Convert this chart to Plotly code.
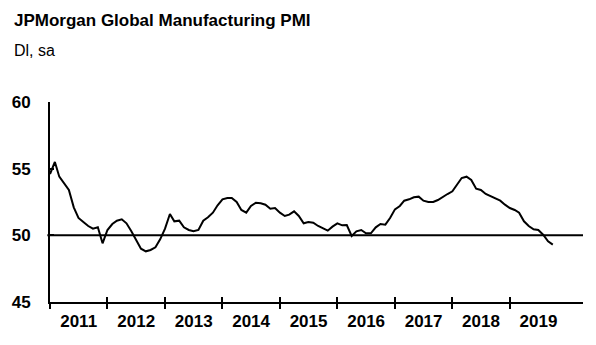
import pandas as pd
import plotly.graph_objects as go

# ---- data ----
start_month = "2011-01-01"
pmi_values = [
    54.6, 55.5, 54.4, 53.9, 53.4, 52.1, 51.3, 51.0, 50.7, 50.5, 50.6, 49.4,   # 2011
    50.4, 50.85, 51.1, 51.2, 50.9, 50.3, 49.7, 49.0, 48.8, 48.9, 49.1, 49.7,  # 2012
    50.5, 51.6, 51.05, 51.1, 50.6, 50.4, 50.3, 50.4, 51.1, 51.35, 51.7, 52.25,  # 2013
    52.7, 52.8, 52.8, 52.5, 51.9, 51.7, 52.2, 52.45, 52.4, 52.3, 52.0, 52.05,  # 2014
    51.7, 51.45, 51.55, 51.8, 51.45, 50.9, 51.0, 50.95, 50.7, 50.5, 50.35, 50.65,  # 2015
    50.9, 50.75, 50.77, 49.95, 50.3, 50.4, 50.15, 50.15, 50.6, 50.85, 50.8, 51.3,  # 2016
    51.95, 52.2, 52.6, 52.7, 52.85, 52.9, 52.6, 52.5, 52.5, 52.65, 52.9, 53.1,  # 2017
    53.3, 53.85, 54.3, 54.4, 54.15, 53.5, 53.4, 53.1, 52.95, 52.8, 52.6, 52.3,  # 2018
    52.05, 51.9, 51.7, 51.05, 50.7, 50.45, 50.4, 50.05, 49.55, 49.3,  # 2019
]
years = ["2011", "2012", "2013", "2014", "2015", "2016", "2017", "2018", "2019"]
y_ticks = [45, 50, 55, 60]
ref_level = 50
title_text = "JPMorgan Global Manufacturing PMI"
unit_text = "Dl, sa"

dates = pd.date_range(start_month, periods=len(pmi_values), freq="MS")
year_starts = [f"{y}-01-01" for y in years]
year_mids = [f"{y}-07-02" for y in years]
x_range = ["2011-01-01", "2020-04-10"]

FONT = "Liberation Sans, Arial, sans-serif"

fig = go.Figure()
fig.add_trace(go.Scatter(x=dates, y=pmi_values, mode="lines",
                         line=dict(color="black", width=2), showlegend=False,
                         hoverinfo="skip"))

# reference line at 50
fig.add_shape(type="line", xref="paper", yref="y", x0=-0.005, x1=1,
              y0=ref_level, y1=ref_level, line=dict(color="black", width=2),
              layer="below")

fig.update_layout(
    width=596, height=345,
    margin=dict(l=50, r=13, t=102, b=43),
    paper_bgcolor="white", plot_bgcolor="white",
    font=dict(family=FONT, color="black"),
    xaxis=dict(type="date", range=x_range, showgrid=False, zeroline=False,
               showline=True, linecolor="black", linewidth=2,
               tickmode="array", tickvals=year_starts, ticks="outside",
               ticklen=5, tickwidth=2, tickcolor="black", showticklabels=False),
    xaxis2=dict(type="date", overlaying="x", matches="x", anchor="y", range=x_range,
                showgrid=False, zeroline=False, showline=False,
                tickmode="array", tickvals=year_starts, ticks="inside",
                ticklen=5, tickwidth=2, tickcolor="black", showticklabels=False),
    xaxis3=dict(type="date", overlaying="x", matches="x", anchor="y", range=x_range,
                showgrid=False, zeroline=False, showline=False,
                tickmode="array", tickvals=year_mids, ticktext=years, ticks="",
                ticklabelstandoff=7,
                tickfont=dict(family=FONT, size=17, color="black", weight="bold")),
    yaxis=dict(range=[45, 60], showgrid=False, zeroline=False,
               showline=True, linecolor="black", linewidth=2,
               tickmode="array", tickvals=y_ticks, ticks="inside", ticklen=4,
               tickwidth=2, tickcolor="black", ticklabelstandoff=14,
               tickfont=dict(family=FONT, size=17, color="black", weight="bold")),
    annotations=[
        dict(text=title_text, xref="paper", yref="paper", x=-50/533, y=1 + (102 - 20) / 200,
             xanchor="left", yanchor="middle", xshift=12, showarrow=False,
             font=dict(family=FONT, size=17, color="black", weight="bold")),
        dict(text=unit_text, xref="paper", yref="paper", x=-50/533, y=1 + (102 - 50) / 200,
             xanchor="left", yanchor="middle", xshift=12, showarrow=False,
             font=dict(family=FONT, size=16, color="black")),
    ],
)
# invisible helper traces so the overlay axes render
fig.add_trace(go.Scatter(x=[dates[0]], y=[ref_level], xaxis="x2", mode="markers",
                         marker=dict(opacity=0), showlegend=False, hoverinfo="skip"))
fig.add_trace(go.Scatter(x=[dates[0]], y=[ref_level], xaxis="x3", mode="markers",
                         marker=dict(opacity=0), showlegend=False, hoverinfo="skip"))

fig.write_html("out.html")
